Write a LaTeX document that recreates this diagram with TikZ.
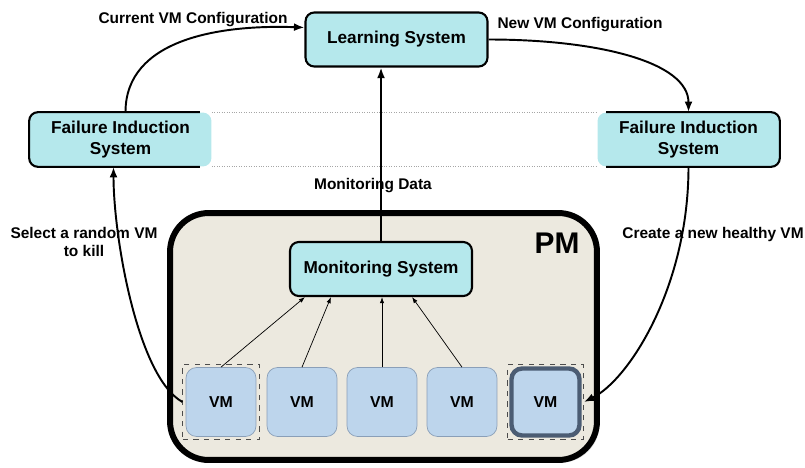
\documentclass[tikz,border=0pt]{standalone}
\usepackage{fontspec}
\setmainfont{Liberation Sans}
\usetikzlibrary{positioning, arrows.meta, calc, fit, shadows}
\definecolor{aqua}{HTML}{B5E8EC}
\definecolor{vmblue}{HTML}{BDD5EC}
\definecolor{vmedge}{HTML}{8A9FB8}
\definecolor{slate}{HTML}{4B5C73}
\definecolor{pmfill}{HTML}{ECE9DF}

\begin{document}
\begin{tikzpicture}[x=0.02cm, y=-0.02cm,
  sysfill/.style={fill=aqua, rounded corners=5pt, minimum width=3.64cm, minimum height=1.08cm, align=center, font=\bfseries\fontsize{9.8}{12}\selectfont},
  sysbox/.style={sysfill, draw, line width=1.2pt},
  vmbox/.style={draw=vmedge, fill=vmblue, rounded corners=6pt, minimum width=1.4cm, minimum height=1.38cm, font=\bfseries\fontsize{9}{10}\selectfont},
  lbl/.style={font=\bfseries\fontsize{8.8}{9.8}\selectfont, align=center},
  main/.style={line width=1.1pt, -{Latex[length=6pt, width=4.5pt]}},
  feed/.style={line width=0.4pt, -{Latex[length=3.5pt, width=2.5pt]}}]
\useasboundingbox (0,0) rectangle (805,467);

\node[draw, line width=3.4pt, fill=pmfill, rounded corners=22pt, minimum width=8.54cm, minimum height=4.94cm, drop shadow={opacity=0.3, shadow xshift=1.5pt, shadow yshift=-1.5pt}] (pm) at (383.5,336.5) {};
\node[font=\bfseries\fontsize{17}{17}\selectfont] (pmlabel) at (557,243) {PM};

\node[sysbox] (ls) at (396.5,39.5) {Learning System};
\node[sysbox] (ms) at (381,269) {Monitoring System};
\node[sysfill] (fisl) at (120.5,139.5) {Failure Induction\\System};
\node[sysfill] (fisr) at (688.5,139.5) {Failure Induction\\System};
\draw[line width=1.2pt, rounded corners=5pt] ($(fisl.north east)+(-12,0)$) -- (fisl.north west) -- (fisl.south west) -- ($(fisl.south east)+(-12,0)$);
\draw[line width=1.2pt, rounded corners=5pt] ($(fisr.north west)+(9,0)$) -- (fisr.north east) -- (fisr.south east) -- ($(fisr.south west)+(9,0)$);
\draw[gray!70, densely dotted] (fisl.north east) -- (fisr.north west);
\draw[gray!70, densely dotted] (fisl.south east) -- (fisr.south west);

\node[vmbox] (vm1) at (221,402) {VM};
\node[vmbox] (vm2) at (302,402) {VM};
\node[vmbox] (vm3) at (382,402) {VM};
\node[vmbox] (vm4) at (462,402) {VM};
\node[vmbox, draw=slate, line width=2.5pt, minimum width=1.36cm, minimum height=1.34cm] (vm5) at (545.5,402) {VM};
\node[draw=gray!60!black, dashed, fit=(vm1), inner sep=1.6pt] (pick) {};
\node[draw=gray!60!black, dashed, fit=(vm5), inner sep=1pt] (new) {};

\node[lbl] (curcfg) at (193,20) {Current VM Configuration};
\node[lbl] (newcfg) at (580,25) {New VM Configuration};
\node[lbl] (mondata) at (373,186) {Monitoring Data};
\node[lbl] (killlbl) at (84,242) {Select a random VM\\to kill};
\node[lbl] (createlbl) at (713,234) {Create a new healthy VM};

\draw[main] ($(fisl.north)+(5,0)$) .. controls +(0,-73) and +(-85,-3) .. ($(ls.west)+(0,-12)$);
\draw[main] (ls.east) .. controls +(110,0) and +(0,-50) .. (fisr.north);
\draw[main] (ms.north) -- (ms.north |- ls.south);
\draw[main] (pick.west) .. controls +(-45,-25) and +(0,70) .. ($(fisl.south)+(-7,0)$);
\draw[main] (fisr.south) .. controls +(0,120) and +(45,-22) .. (new.east);

\draw[feed] (vm1.north) -- ($(ms.south west)+(16,0)$);
\draw[feed] (vm2.north) -- ($(ms.south west)+(42,0)$);
\draw[feed] (vm3.north) -- (vm3.north |- ms.south);
\draw[feed] (vm4.north) -- ($(ms.south east)+(-61,0)$);
\end{tikzpicture}
\end{document}
